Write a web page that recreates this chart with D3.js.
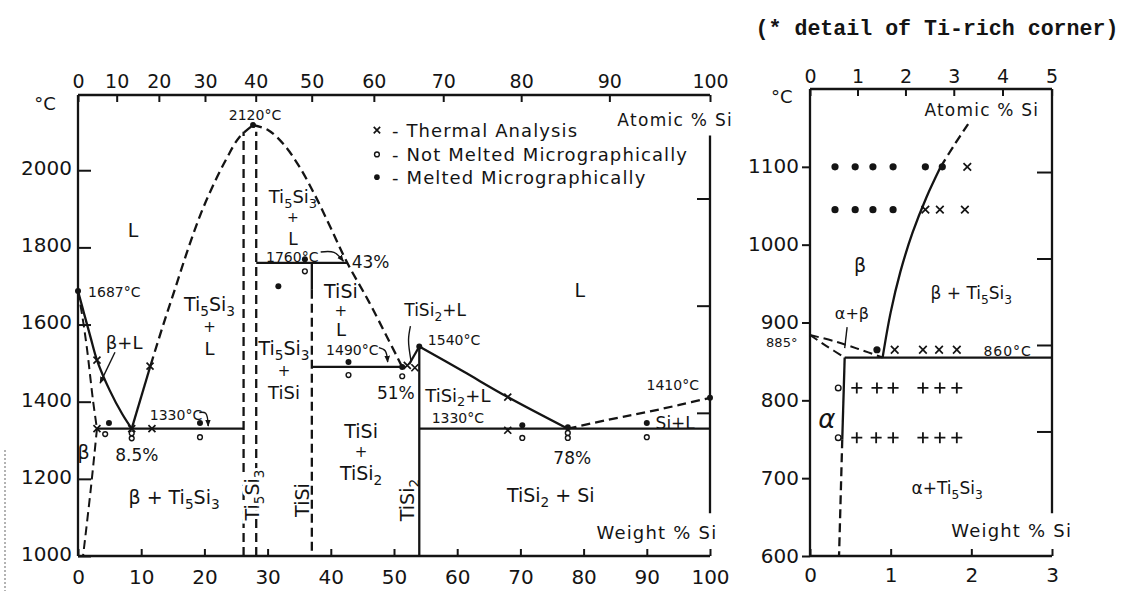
<!DOCTYPE html>
<html><head><meta charset="utf-8">
<script src="https://cdn.jsdelivr.net/npm/d3@7"></script>
<style>
body{margin:0;background:#fff;}
svg{display:block;font-family:"DejaVu Sans",sans-serif;}
</style></head><body>
<svg id="c" width="1127" height="591"></svg>
<script>
// ---------------- data ----------------
const mainWtTicks = [0,10,20,30,40,50,60,70,80,90,100];
const mainAtTicks = [0,10,20,30,40,50,60,70,80,90,100];
const mainTempTicks = [1000,1200,1400,1600,1800,2000];
const mainFTicks = [2500,3000,3500];
const detWtTicks = [0,1,2,3];
const detAtTicks = [0,1,2,3,4,5];
const detTempTicks = [600,700,800,900,1000,1100];
const detFTicks = [1400,1600,1800,2000];

// main diagram boundaries  [wt% Si, °C]
const liqTi = [[0,1687],[1,1626],[2,1566],[3,1508],[5,1430],[7,1368],[8.5,1330]];
const solidusBeta = [[0,1687],[0.7,1620],[1.4,1540],[2.4,1400],[3.0,1330]];
const solvusBeta = [[3.0,1330],[2.0,1170],[0.8,1000]];
const liqTi5Si3Solid = [[8.5,1330],[11.5,1495]];
const liqTi5Si3Left = [[11.5,1495],[13.5,1600],[15.5,1700],[17.5,1800],[19.5,1890],[21.5,1965],[23.5,2030],[25.5,2085],[27.7,2117]];
const liqTi5Si3Right = [[27.7,2117],[30,2105],[32.5,2068],[35,2010],[37.5,1935],[40,1850],[42.6,1760],[46,1660],[51.3,1490]];
const ti5si3Low = [[26.2,1000],[26.2,2100]];
const ti5si3High = [[28.2,1000],[28.2,2100]];
const peritectic1760 = [[28.2,1760],[42.6,1760]];
const tisiUpper = [[37,1760],[37,1690]];
const tisiLower = [[37,1690],[37,1000]];
const eutectic1490 = [[37,1490],[51.3,1490]];
const tisi2Line = [[54,1000],[54,1543]];
const liqTiSi2Left = [[54,1543],[52.4,1497]];
const liqTiSi2Right = [[54,1543],[61,1478],[68,1412],[77.5,1330]];
const eutectic1330Left = [[3,1330],[26.2,1330]];
const eutectic1330Right = [[54,1330],[100,1330]];
const liqSi = [[77.5,1330],[85,1357],[90,1373],[95,1391],[100,1410]];

const mainCross = [[3,1508],[11.4,1492],[3,1330],[8.5,1330],[11.7,1330],[52.1,1494],[53.3,1488],[68,1412],[68,1326]];
const mainDot = [[0,1687],[27.7,2117],[4.9,1345],[19.3,1345],[31.7,1699],[35.9,1769],[42.8,1503],[51.3,1490],[54,1543],[70.3,1339],[77.5,1334],[90,1345],[100,1410]];
const mainOpen = [[4.3,1316],[8.5,1318],[8.5,1305],[19.3,1308],[35.9,1738],[42.8,1469],[51.3,1466],[70.3,1306],[77.5,1319],[77.5,1306],[90,1308]];

// detail (Ti-rich corner)
const betaSolvusSolid = [[0.9,855],[1.0,913],[1.12,965],[1.27,1015],[1.44,1060],[1.62,1100]];
const betaSolvusDashed = [[1.62,1100],[1.8,1130],[1.96,1155]];
const betaTransus = [[0,884],[0.3,876],[0.6,866],[0.9,855]];
const alphaTransus = [[0,884],[0.2,870],[0.43,855]];
const eutectoid = [[0.43,855],[3,855]];
const alphaSolvusSolid = [[0.43,855],[0.40,750]];
const alphaSolvusDashed = [[0.40,750],[0.36,600]];
const detDot = [[0.31,1100],[0.56,1100],[0.78,1100],[1.03,1100],[1.43,1100],[1.64,1100],[0.31,1045],[0.56,1045],[0.78,1045],[1.03,1045],[0.83,865]];
const detCross = [[1.95,1100],[1.43,1045],[1.61,1045],[1.92,1045],[1.05,865],[1.40,865],[1.60,865],[1.82,865]];
const detOpen = [[0.35,816],[0.35,752]];
const detPlus = [[0.58,816],[0.83,816],[1.03,816],[1.40,816],[1.61,816],[1.82,816],[0.58,752],[0.82,752],[1.03,752],[1.40,752],[1.61,752],[1.82,752]];

const legendItems = ["Thermal Analysis","Not Melted Micrographically","Melted Micrographically"];

// ---------------- drawing ----------------
const svg = d3.select("#c");
const INK = "#141414";
const M_SI = 28.0855, M_TI = 47.867;
const atToWt = a => 100*a*M_SI/(a*M_SI+(100-a)*M_TI);
const toF = c => c*9/5+32;

const xM = d3.scaleLinear([0,100],[78,710]);
const yM = d3.scaleLinear([1000,2195],[556,95]);
const yMF = d3.scaleLinear(yM.domain().map(toF), yM.range());
const xD = d3.scaleLinear([0,3],[810,1052]);
const yD = d3.scaleLinear([600,1200],[556,89]);
const yDF = d3.scaleLinear(yD.domain().map(toF), yD.range());
const fmt = d3.format("d");

const defs = svg.append("defs");
defs.append("marker").attr("id","ah").attr("viewBox","0 0 10 10").attr("refX",9).attr("refY",5)
  .attr("markerWidth",5).attr("markerHeight",5).attr("orient","auto")
  .append("path").attr("d","M0,1L10,5L0,9z").attr("fill",INK);

// scan artifact at left edge
svg.append("line").attr("x1",5).attr("x2",5).attr("y1",450).attr("y2",591)
  .attr("stroke","#9a9a9a").attr("stroke-width",1.5).attr("stroke-dasharray","2,2");

function styleAxis(g, fs, dy){
  g.select(".domain").remove();
  g.selectAll(".tick line").attr("stroke",INK).attr("stroke-width",2);
  const t = g.selectAll(".tick text").attr("fill",INK).style("font-size",fs+"px").style("font-family","'DejaVu Sans',sans-serif");
  if (dy) t.attr("dy", dy);
}

function frame(xs, ys, rTop, rBot){
  const [x0,x1] = xs.range(); const y1 = ys.range()[0], y0 = ys.range()[1];
  const f = svg.append("g").attr("stroke",INK).attr("stroke-width",2.3).attr("fill","none");
  f.append("line").attr("x1",x0).attr("x2",x0).attr("y1",y0).attr("y2",y1);
  f.append("line").attr("x1",x0).attr("x2",x1).attr("y1",y0).attr("y2",y0);
  f.append("line").attr("x1",x0).attr("x2",x1).attr("y1",y1).attr("y2",y1);
  f.append("line").attr("x1",x1).attr("x2",x1).attr("y1",ys(rTop)).attr("y2",ys(rBot));
}

// ---- main axes ----
frame(xM, yM, 2090, 1111);
styleAxis(svg.append("g").attr("transform",`translate(${xM(0)},0)`)
  .call(d3.axisLeft(yM).tickValues(mainTempTicks).tickFormat(fmt).tickSizeInner(-13).tickSizeOuter(0).tickPadding(6)), 20, "0.22em");
styleAxis(svg.append("g").attr("transform",`translate(0,${yM(1000)})`)
  .call(d3.axisBottom(xM).tickValues(mainWtTicks).tickFormat(fmt).tickSizeInner(-7).tickSizeOuter(0).tickPadding(14)), 20);
styleAxis(svg.append("g").attr("transform",`translate(0,${yM(2195)})`)
  .call(d3.axisTop(xM).tickValues(mainAtTicks.map(atToWt)).tickFormat((d,i)=>fmt(mainAtTicks[i]))
  .tickSizeInner(-7).tickSizeOuter(0).tickPadding(7)), 19);
styleAxis(svg.append("g").attr("transform",`translate(${xM(100)},0)`)
  .call(d3.axisLeft(yMF).tickValues(mainFTicks).tickSizeInner(13).tickSizeOuter(0).tickFormat("")), 10);

// ---- detail axes ----
frame(xD, yD, 1200, 655);
styleAxis(svg.append("g").attr("transform",`translate(${xD(0)},0)`)
  .call(d3.axisLeft(yD).tickValues(detTempTicks).tickFormat(fmt).tickSizeInner(8).tickSizeOuter(0).tickPadding(3)), 20, "0.3em");
styleAxis(svg.append("g").attr("transform",`translate(0,${yD(600)})`)
  .call(d3.axisBottom(xD).tickValues(detWtTicks).tickFormat(fmt).tickSizeInner(-7).tickSizeOuter(0).tickPadding(12)), 20);
styleAxis(svg.append("g").attr("transform",`translate(0,${yD(1200)})`)
  .call(d3.axisTop(xD).tickValues(detAtTicks.map(atToWt)).tickFormat((d,i)=>fmt(detAtTicks[i]))
  .tickSizeInner(-7).tickSizeOuter(0).tickPadding(6)), 19);
styleAxis(svg.append("g").attr("transform",`translate(${xD(3)},0)`)
  .call(d3.axisLeft(yDF).tickValues(detFTicks).tickSizeInner(15).tickSizeOuter(0).tickFormat("")), 10);

// ---- curves ----
const lineM = d3.line().x(d=>xM(d[0])).y(d=>yM(d[1]));
const lineD = d3.line().x(d=>xD(d[0])).y(d=>yD(d[1]));
function curve(gen, pts, dashed, smooth, w){
  svg.append("path").attr("d", gen.curve(smooth ? d3.curveCatmullRom.alpha(0.5) : d3.curveLinear)(pts))
    .attr("fill","none").attr("stroke",INK).attr("stroke-width", w || 2.3)
    .attr("stroke-linecap","butt")
    .attr("stroke-dasharray", dashed ? "9,5" : null);
}
curve(lineM, liqTi, false, true);
curve(lineM, solidusBeta, true, true, 2);
curve(lineM, solvusBeta, true, true, 2);
curve(lineM, liqTi5Si3Solid, false, false);
curve(lineM, liqTi5Si3Left, true, true);
curve(lineM, liqTi5Si3Right, true, true);
curve(lineM, ti5si3Low, true, false);
curve(lineM, ti5si3High, true, false);
curve(lineM, peritectic1760, false, false);
curve(lineM, tisiUpper, false, false);
curve(lineM, tisiLower, true, false);
curve(lineM, eutectic1490, false, false);
curve(lineM, tisi2Line, false, false);
curve(lineM, liqTiSi2Left, false, false);
curve(lineM, liqTiSi2Right, false, true);
curve(lineM, eutectic1330Left, false, false);
curve(lineM, eutectic1330Right, false, false);
curve(lineM, liqSi, true, true);

curve(lineD, betaSolvusSolid, false, true);
curve(lineD, betaSolvusDashed, true, true);
curve(lineD, betaTransus, true, true, 2);
curve(lineD, alphaTransus, true, true, 2);
curve(lineD, eutectoid, false, false);
curve(lineD, alphaSolvusSolid, false, false);
curve(lineD, alphaSolvusDashed, true, false);

// ---- markers ----
const mk = svg.append("g");
function drawCross(x,y,s){ mk.append("path").attr("d",`M${x-s},${y-s}L${x+s},${y+s}M${x-s},${y+s}L${x+s},${y-s}`).attr("stroke",INK).attr("stroke-width",1.7).attr("fill","none"); }
function drawPlus(x,y,s){ mk.append("path").attr("d",`M${x-s},${y}L${x+s},${y}M${x},${y-s}L${x},${y+s}`).attr("stroke",INK).attr("stroke-width",1.8).attr("fill","none"); }
function drawOpen(x,y,r){ mk.append("circle").attr("cx",x).attr("cy",y).attr("r",r).attr("fill","#fff").attr("stroke",INK).attr("stroke-width",1.4); }
function drawDot(x,y,r){ mk.append("circle").attr("cx",x).attr("cy",y).attr("r",r).attr("fill",INK); }

mainCross.forEach(d=>drawCross(xM(d[0]),yM(d[1]),3.5));
mainOpen.forEach(d=>drawOpen(xM(d[0]),yM(d[1]),2.4));
mainDot.forEach(d=>drawDot(xM(d[0]),yM(d[1]),3));
detCross.forEach(d=>drawCross(xD(d[0]),yD(d[1]),3.8));
detPlus.forEach(d=>drawPlus(xD(d[0]),yD(d[1]),5.5));
detOpen.forEach(d=>drawOpen(xD(d[0]),yD(d[1]),2.8));
detDot.forEach(d=>drawDot(xD(d[0]),yD(d[1]),3.6));

// ---- text ----
// lines: string or array of strings (stacked); "_d" marks a subscript digit
function label(lines, x, y, o){
  o = o || {};
  if (!Array.isArray(lines)) lines = [lines];
  const size = o.size || 19, lh = o.lh || size;
  const sizes = o.sizes || lines.map(()=>size);
  const t = svg.append("text").attr("fill",INK).style("font-size",size+"px")
    .attr("text-anchor", o.anchor || "middle");
  if (o.family) t.style("font-family", o.family);
  if (o.italic) t.style("font-style","italic");
  if (o.weight) t.style("font-weight", o.weight);
  if (o.ls) t.style("letter-spacing", o.ls+"px");
  let x0 = x;
  if (o.rotate) { t.attr("transform",`translate(${x},${y}) rotate(${o.rotate})`).attr("x",0).attr("y",0.36*sizes[0]); x0 = 0; }
  else t.attr("x",x).attr("y",y+0.36*sizes[0]);
  if (o.halo) t.attr("stroke","#fff").attr("stroke-width",6).attr("paint-order","stroke");
  let shift = 0, prevSize = sizes[0];
  lines.forEach((line, li)=>{
    const ls = sizes[li];
    const parts = line.split(/_(\d)/);
    let first = true;
    parts.forEach((p,i)=>{
      if (!p) return;
      const s = t.append("tspan");
      let dy = 0;
      if (first && li > 0) { s.attr("x", x0); dy += lh + 0.36*(ls - prevSize); }
      if (i % 2 === 1) {
        s.style("font-size",(0.72*ls)+"px");
        dy += 0.27*ls - shift; shift = 0.27*ls;
      } else { s.style("font-size", ls+"px"); dy -= shift; shift = 0; }
      if (dy) s.attr("dy", dy);
      s.text(p);
      first = false;
    });
    prevSize = ls;
  });
  return t;
}
const LM = (txt,w,T,o)=>label(txt,xM(w),yM(T),o);
const LD = (txt,w,T,o)=>label(txt,xD(w),yD(T),o);

LM("°C", -5.2, 2174, {size:18});
LM("Atomic % Si", 94.5, 2130, {size:17, ls:1.3});
LM("Weight % Si", 91.6, 1060, {size:18, ls:1.2});
LM("L", 8.7, 1845);
LM("L", 79.4, 1689);
LM("2120°C", 28.0, 2142, {size:14});
LM("1687°C", 1.6, 1684, {size:14, anchor:"start"});
LM(["Ti_5Si_3","+","L"], 34.0, 1932, {lh:21, sizes:[18,14,17]});
LM("1760°C", 33.9, 1776, {size:14});
LM("43%", 43.3, 1762, {size:17, anchor:"start"});
LM(["TiSi","+","L"], 41.6, 1686, {lh:19, sizes:[19,15,18]});
LM(["Ti_5Si_3","+","L"], 20.8, 1652, {lh:22, sizes:[19,15,18]});
LM("β+L", 7.3, 1554, {size:18});
LM(["Ti_5Si_3","+","TiSi"], 32.6, 1538, {lh:22, sizes:[19,15,18]});
LM("1490°C", 43.4, 1534, {size:14});
LM(["TiSi","+","TiSi_2"], 44.8, 1324, {lh:21, sizes:[19,15,19]});
LM("8.5%", 9.3, 1262, {size:17});
LM("β", 0.9, 1269, {size:19});
LM("β + Ti_5Si_3", 15.2, 1153);
LM("1330°C", 15.5, 1365, {size:14});
LM("Ti_5Si_3", 27.5, 1158, {rotate:-90, halo:true});
LM("TiSi", 35.4, 1145, {rotate:-90});
LM("TiSi_2", 52.1, 1145, {rotate:-90});
LM("TiSi_2+L", 56.5, 1637, {size:17});
LM("1540°C", 59.5, 1560, {size:14});
LM("51%", 50.3, 1422, {size:17});
LM("TiSi_2+L", 60.1, 1417, {size:18});
LM("1330°C", 60.1, 1358, {size:14});
LM("78%", 78.2, 1254, {size:17});
LM("TiSi_2 + Si", 74.8, 1158);
LM("1410°C", 94.1, 1443, {size:14});
LM("Si+L", 94.5, 1345, {size:17});

// legend
const legT = [2104, 2041, 1982];
drawCross(xM(47.3), yM(legT[0]), 3.2);
drawOpen(xM(47.3), yM(legT[1]), 2.4);
drawDot(xM(47.3), yM(legT[2]), 2.8);
legendItems.forEach((s,i)=>LM("- " + s, 49.7, legT[i], {size:18, anchor:"start", ls:1.1}));

// leaders / arrows (main)
const leader = (gen, pts, arrow) => svg.append("path").attr("d", gen.curve(d3.curveCatmullRom.alpha(0.5))(pts))
  .attr("fill","none").attr("stroke",INK).attr("stroke-width",1.4)
  .attr("marker-end", arrow ? "url(#ah)" : null);
leader(lineM, [[5.85,1528],[3.5,1448]], true);
leader(lineM, [[38.4,1788],[40.5,1787],[42.0,1764]], true);
leader(lineM, [[47.6,1540],[48.6,1532],[49.0,1503]], true);
leader(lineM, [[19.2,1372],[20.2,1370],[20.6,1337]], true);
leader(lineM, [[52.6,1596],[52.3,1560],[52.7,1505]], false);

// detail labels
LD("°C", -0.35, 1190, {size:18});
LD("Atomic % Si", 2.13, 1173, {size:17, ls:1.2});
LD("β", 0.62, 974, {size:19});
LD("β + Ti_5Si_3", 2.0, 938, {size:17});
LD("α+β", 0.52, 912, {size:16});
LD("885°", -0.35, 875, {size:13});
LD("860°C", 2.45, 863, {size:14, ls:1});
LD("α", 0.21, 776, {size:26, italic:true});
LD("α+Ti_5Si_3", 1.70, 687, {size:17});
LD("Weight % Si", 2.50, 633, {size:18, ls:1.2});
leader(lineD, [[0.46,894],[0.43,867]], false);

// title
label("(* detail of Ti-rich corner)", 937, 27, {size:21.6, family:"'Liberation Mono',monospace", weight:"bold"});
</script>
</body></html>
